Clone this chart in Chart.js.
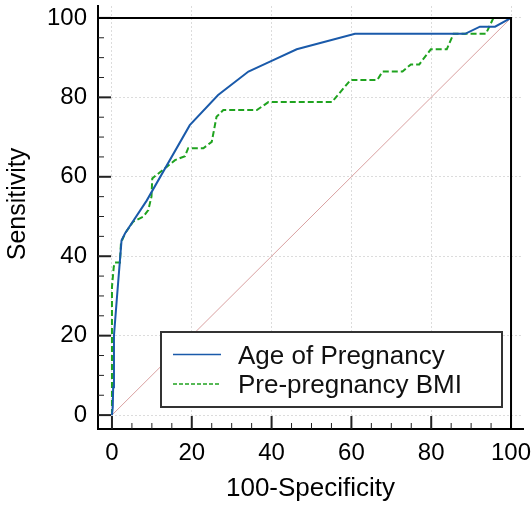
<!DOCTYPE html>
<html>
<head>
<meta charset="utf-8">
<script src="https://cdn.jsdelivr.net/npm/chart.js@4.4.1/dist/chart.umd.min.js"></script>
<style>
  html, body { margin: 0; padding: 0; background: #fff; }
  #wrap { width: 532px; height: 505px; }
</style>
</head>
<body>
<div id="wrap"><canvas id="chart" width="532" height="505"></canvas></div>
<script>
// ROC curves, values
const ageX = [0, 0.2, 0.3, 0.5, 1.2, 2.4, 3.3, 8.7, 19.5, 26.6, 34.2, 39.6, 46.3, 60.9, 88.5, 92.2, 96, 100];
const ageY = [0, 2, 7, 20, 29, 44, 45.8, 54, 73, 80.6, 86.5, 89, 92.1, 96, 96, 97.8, 97.8, 100];

const bmiX = [0, 0, 0.45, 0.7, 2.0, 2.25, 3.3, 5.3, 7.9, 9.1, 9.9, 10.1, 13.7, 15.8, 18.3, 19.1, 22.9, 25, 26.2, 27.9, 36.3, 39.2, 55.1, 59.8, 66.5, 67.8, 72.8, 74.9, 77, 79.9, 83.9, 85.6, 93.7, 95.6, 100];
const bmiY = [0, 32.3, 37.3, 38.4, 38.4, 43.3, 45.8, 48.7, 50, 51.6, 55, 59.6, 62.5, 64.2, 65.2, 67.2, 67.2, 68.8, 75.1, 76.8, 76.8, 78.8, 78.8, 84.4, 84.4, 86.5, 86.5, 88.3, 88.3, 92.1, 92.1, 96, 96, 100, 100];

const refX = [0, 100];
const refY = [0, 100];

const seriesNames = ['Age of Pregnancy', 'Pre-pregnancy BMI'];
const xTitle = '100-Specificity';
const yTitle = 'Sensitivity';
const xTicks = [0, 20, 40, 60, 80, 100];
const yTicks = [0, 20, 40, 60, 80, 100];
const minorTicks = [5, 10, 15, 25, 30, 35, 45, 50, 55, 65, 70, 75, 85, 90, 95];

const FONT = "'Liberation Sans', Arial, sans-serif";
const toPts = (xs, ys) => xs.map((x, i) => ({ x: x, y: ys[i] }));

const noPad = s => { s.paddingTop = 0; s.paddingBottom = 0; s.paddingLeft = 0; s.paddingRight = 0; };

// inward tick marks, top/right frame at 100, y title and the boxed legend
const framePlugin = {
  id: 'frame',
  afterDraw(chart) {
    const { ctx, scales: { x, y }, chartArea } = chart;
    ctx.save();
    ctx.strokeStyle = '#222';
    const drawTick = (v, len) => {
      const px = x.getPixelForValue(v);
      ctx.beginPath();
      ctx.moveTo(px, chartArea.bottom);
      ctx.lineTo(px, chartArea.bottom - len);
      ctx.stroke();
      const py = y.getPixelForValue(v);
      ctx.beginPath();
      ctx.moveTo(chartArea.left, py);
      ctx.lineTo(chartArea.left + len, py);
      ctx.stroke();
    };
    ctx.lineWidth = 2;
    xTicks.forEach(v => drawTick(v, 13));
    ctx.lineWidth = 1;
    minorTicks.forEach(v => drawTick(v, 6));

    // frame at 100
    ctx.strokeStyle = '#000';
    ctx.lineWidth = 2;
    const x100 = x.getPixelForValue(100);
    const y100 = y.getPixelForValue(100);
    ctx.beginPath();
    ctx.moveTo(chartArea.left, y100);
    ctx.lineTo(x100, y100);
    ctx.lineTo(x100, chartArea.bottom);
    ctx.stroke();

    // y axis title
    ctx.save();
    ctx.translate(18, 204);
    ctx.rotate(-Math.PI / 2);
    ctx.font = '25px ' + FONT;
    ctx.fillStyle = '#000';
    ctx.textAlign = 'center';
    ctx.textBaseline = 'middle';
    ctx.fillText(yTitle, 0, 0);
    ctx.restore();

    // legend
    const lx = 161, ly = 332, lw = 341, lh = 75;
    ctx.fillStyle = '#fff';
    ctx.fillRect(lx, ly, lw, lh);
    ctx.strokeStyle = '#333';
    ctx.lineWidth = 2;
    ctx.strokeRect(lx, ly, lw, lh);
    ctx.font = '26px ' + FONT;
    ctx.textBaseline = 'alphabetic';
    ctx.fillStyle = '#111';
    [0, 1].forEach(i => {
      const ds = chart.data.datasets[i];
      const lineY = 354.5 + i * 29.5;
      ctx.strokeStyle = ds.borderColor;
      ctx.lineWidth = 1.6;
      ctx.setLineDash(i === 1 ? [4, 2] : []);
      ctx.beginPath();
      ctx.moveTo(173, lineY);
      ctx.lineTo(221, lineY);
      ctx.stroke();
      ctx.setLineDash([]);
      ctx.fillText(ds.label, 238, 363.5 + i * 29.5);
    });
    ctx.restore();
  }
};

new Chart(document.getElementById('chart'), {
  type: 'scatter',
  data: {
    datasets: [
      {
        label: seriesNames[0],
        data: toPts(ageX, ageY),
        showLine: true,
        borderColor: '#1a5aaa',
        borderWidth: 2,
        pointRadius: 0,
        tension: 0,
        order: 1
      },
      {
        label: seriesNames[1],
        data: toPts(bmiX, bmiY),
        showLine: true,
        borderColor: '#1fa31f',
        borderWidth: 2,
        borderDash: [6, 3],
        pointRadius: 0,
        tension: 0,
        order: 2
      },
      {
        label: 'reference',
        data: toPts(refX, refY),
        showLine: true,
        borderColor: '#d9a0a0',
        borderWidth: 1,
        pointRadius: 0,
        order: 3
      }
    ]
  },
  options: {
    responsive: false,
    animation: false,
    layout: { padding: { top: 6, right: 9, left: 0, bottom: 0 } },
    plugins: {
      legend: { display: false },
      tooltip: { enabled: false }
    },
    scales: {
      x: {
        type: 'linear',
        min: -3.5,
        max: 103,
        afterBuildTicks: s => { s.ticks = xTicks.map(v => ({ value: v })); },
        afterFit: s => { s.height = 76; noPad(s); },
        grid: { color: '#dcdcdc', lineWidth: 1, drawTicks: false },
        border: { display: true, color: '#000', width: 2, dash: [2, 2] },
        ticks: { color: '#000', padding: 10, font: { family: FONT, size: 24 } },
        title: {
          display: true,
          text: xTitle,
          color: '#000',
          padding: { top: 0, bottom: 1 },
          font: { family: FONT, size: 26 }
        }
      },
      y: {
        type: 'linear',
        min: -3.5,
        max: 103,
        afterBuildTicks: s => { s.ticks = yTicks.map(v => ({ value: v })); },
        afterFit: s => { s.width = 98; noPad(s); },
        grid: { color: '#dcdcdc', lineWidth: 1, drawTicks: false },
        border: { display: true, color: '#000', width: 2, dash: [2, 2] },
        ticks: { color: '#000', padding: 11, font: { family: FONT, size: 24 } },
        title: { display: false }
      }
    }
  },
  plugins: [framePlugin]
});
</script>
</body>
</html>
